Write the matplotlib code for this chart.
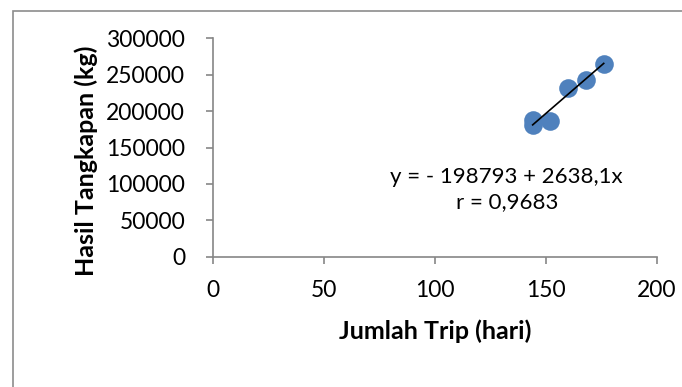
import matplotlib.pyplot as plt
from matplotlib.patches import Rectangle

# trip days vs catch
trip_days = [144, 144, 152, 160, 168, 176]
catch_kg = [180500, 187800, 186800, 231300, 242700, 264700]

# regression line coefficients
intercept = -198793
slope = 2638.1
r_value = 0.9683

x_ticks = [0, 50, 100, 150, 200]
y_ticks = [0, 50000, 100000, 150000, 200000, 250000, 300000]

plt.rcParams['font.family'] = ['Lato', 'DejaVu Sans']

fig = plt.figure(figsize=(6.82, 3.87), dpi=100)
ax = fig.add_axes([213 / 682, 1 - 256.7 / 387, 444 / 682, 218.4 / 387])

# chart frame
fig.patches.append(Rectangle((12.5 / 682, -0.1), 1.2, 1 - 10.5 / 387 + 0.1,
                             transform=fig.transFigure, fill=False,
                             edgecolor='#8c8c8c', linewidth=1.2))

ax.scatter(trip_days, catch_kg, s=180, color='#4f81bd', zorder=2, linewidths=0)

x_line = [min(trip_days), max(trip_days)]
y_line = [intercept + slope * v for v in x_line]
ax.plot(x_line, y_line, color='black', linewidth=1.2, zorder=3)

ax.set_xlim(0, 200)
ax.set_ylim(0, 300000)
ax.set_xticks(x_ticks)
ax.set_yticks(y_ticks)
ax.set_xticklabels([str(v) for v in x_ticks])
ax.set_yticklabels([str(v) for v in y_ticks])

for s in ['top', 'right']:
    ax.spines[s].set_visible(False)
for s in ['left', 'bottom']:
    ax.spines[s].set_color('#868686')
    ax.spines[s].set_linewidth(1.2)
ax.tick_params(axis='both', colors='#868686', length=5, width=1.2,
               labelsize=16.5, labelcolor='black')
ax.tick_params(axis='x', pad=12)
ax.tick_params(axis='y', pad=15)

ax.text(132.3, 110000, 'y = - 198793 + 2638,1x', fontsize=16,
        ha='center', va='center')
ax.text(132.3, 75500, f'r = {r_value}'.replace('.', ','), fontsize=16,
        ha='center', va='center')

fig.text(435 / 682, 1 - 331.7 / 387, 'Jumlah Trip (hari)', fontsize=18,
         fontweight='bold', ha='center', va='center')
fig.text(86 / 682, 1 - 161 / 387, 'Hasil Tangkapan (kg)', fontsize=18,
         fontweight='bold', rotation=90, ha='center', va='center')

fig.savefig('out.png', dpi=100)
